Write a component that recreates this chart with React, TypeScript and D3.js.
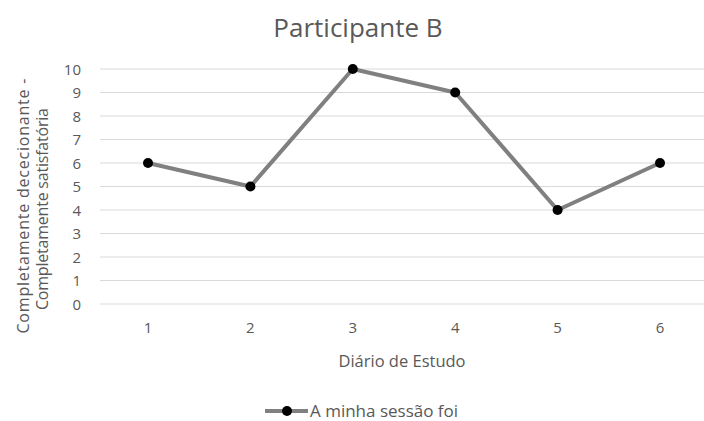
import React from "react";
import * as d3 from "d3";

const days = ["1", "2", "3", "4", "5", "6"];
const scores = [6, 5, 10, 9, 4, 6];
const yTicks = [0, 1, 2, 3, 4, 5, 6, 7, 8, 9, 10];

const W = 704;
const H = 421;
const FONT = "'Open Sans', 'Noto Sans', sans-serif";
const TXT = "#595959";

export default function App() {
  const x = d3.scalePoint<string>().domain(days).range([148, 660]);
  const y = d3.scaleLinear().domain([0, 10]).range([304, 69]);
  const line = d3
    .line<number>()
    .x((_, i) => x(days[i]) as number)
    .y((d) => y(d));

  return (
    <svg
      width={W}
      height={H}
      style={{ position: "absolute", left: 0, top: 0, background: "#fff" }}
      fontFamily={FONT}
    >
      <rect width={W} height={H} fill="#fff" />
      <text x={358} y={37} textAnchor="middle" fontSize={26} fill={TXT}>
        Participante B
      </text>
      {yTicks.map((t) => (
        <g key={t}>
          <line x1={100} x2={W} y1={y(t)} y2={y(t)} stroke="#d9d9d9" strokeWidth={1} />
          <text x={81} y={y(t) + 5.5} textAnchor="end" fontSize={15} fill={TXT}>
            {t}
          </text>
        </g>
      ))}
      {days.map((d) => (
        <text key={d} x={x(d)} y={333} textAnchor="middle" fontSize={15} fill={TXT}>
          {d}
        </text>
      ))}
      <text x={402} y={367} textAnchor="middle" fontSize={16.5} fill={TXT}>
        Diário de Estudo
      </text>
      <text
        transform="translate(29,206) rotate(-90)"
        textAnchor="middle"
        fontSize={16}
        fill={TXT}
        textLength={255}
        lengthAdjust="spacing"
      >
        Completamente dececionante  -
      </text>
      <text
        transform="translate(48,209) rotate(-90)"
        textAnchor="middle"
        fontSize={16}
        fill={TXT}
        textLength={202}
        lengthAdjust="spacing"
      >
        Completamente satisfatória
      </text>
      <path d={line(scores) ?? ""} fill="none" stroke="#808080" strokeWidth={4} strokeLinejoin="round" />
      {scores.map((s, i) => (
        <circle key={i} cx={x(days[i])} cy={y(s)} r={5} fill="#000" />
      ))}
      <line x1={265} x2={308} y1={411} y2={411} stroke="#808080" strokeWidth={4} />
      <circle cx={287} cy={411} r={5} fill="#000" />
      <text x={310} y={417} fontSize={17} fill={TXT}>
        A minha sessão foi
      </text>
    </svg>
  );
}
